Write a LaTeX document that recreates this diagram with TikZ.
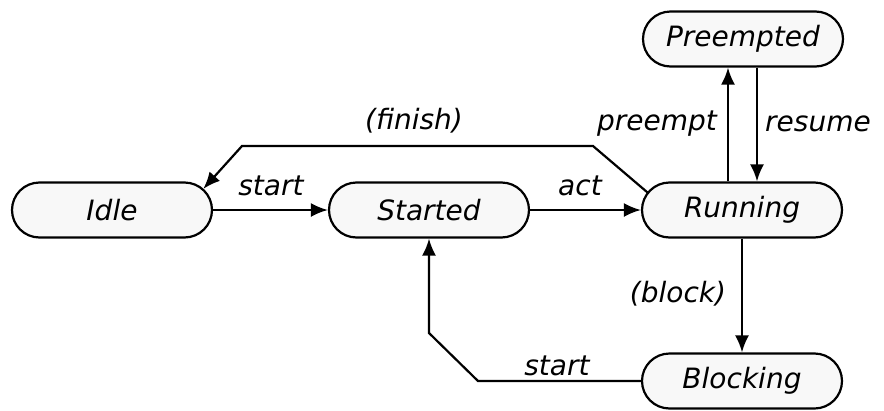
\documentclass[tikz,border=0pt]{standalone}
\usepackage{fontspec}
\setmainfont{DejaVu Sans}
\usetikzlibrary{arrows.meta,calc,shapes.misc}
\definecolor{statefill}{HTML}{F8F8F8}
\tikzset{
  state/.style={draw, line width=2.2pt, fill=statefill, rounded rectangle,
    minimum width=200pt, minimum height=55pt, inner sep=0pt,
    font=\fontsize{28}{33}\selectfont\itshape},
  lbl/.style={inner sep=0pt, font=\fontsize{28}{33}\selectfont\itshape},
  trans/.style={line width=2.2pt, -{Latex[length=17pt,width=14pt]}},
}
\begin{document}
\begin{tikzpicture}[x=1pt,y=-1pt]
\useasboundingbox (0,0) rectangle (884,410);

% states
\node[state] (idle)      at (112,210) {Idle};
\node[state] (started)   at (429,210) {Started};
\node[state] (running)   at (742,210) {Running};
\node[state] (preempted) at (743,39)  {Preempted};
\node[state] (blocking)  at (742,381) {Blocking};

% bend points
\coordinate (finR) at (593,146);
\coordinate (finL) at (242,146);
\coordinate (blkR) at (478,381);
\coordinate (blkL) at (429,333);

% transitions
\draw[trans] (idle.east) -- (started.west);
\draw[trans] (started.east) -- (running.west);
\draw[trans] ([xshift=-14pt]running.north) -- ([xshift=-15pt]preempted.south);
\draw[trans] ([xshift=14pt]preempted.south) -- ([xshift=15pt]running.north);
\draw[trans] (running.south) -- (blocking.north);
\draw[trans] ($(running.west)+(27.5pt,0pt)+(140:27.5pt)$) -- (finR) -- (finL)
  -- ($(idle.east)+(-27.5pt,0pt)+(50:27.5pt)$);
\draw[trans] (blocking.west) -- (blkR) -- (blkL) -- (started.south);

% labels
\node[lbl] (lstart)   at (271,186) {start};
\node[lbl] (lact)     at (580,186) {act};
\node[lbl] (lpreempt) at (657,124) {preempt};
\node[lbl] (lresume)  at (818,124) {resume};
\node[lbl] (lfinish)  at (414,121) {(finish)};
\node[lbl] (lblock)   at (678,294) {(block)};
\node[lbl] (lrestart) at (557,366) {start};
\end{tikzpicture}
\end{document}
